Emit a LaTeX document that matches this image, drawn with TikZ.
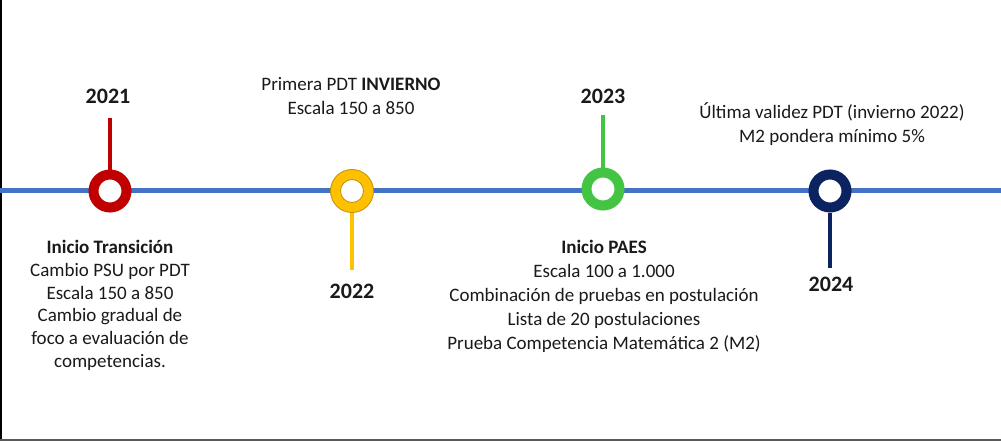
\documentclass[tikz,border=0pt]{standalone}
\usepackage{fontspec}
\setmainfont{Carlito}
\definecolor{lineblue}{HTML}{4472C4}
\definecolor{cred}{HTML}{C00000}
\definecolor{cyellow}{HTML}{FFC000}
\definecolor{cyellowedge}{HTML}{BF9000}
\definecolor{cgreen}{HTML}{43C443}
\definecolor{cnavy}{HTML}{0B2461}
\definecolor{txt}{HTML}{1A1A1A}
\begin{document}
\begin{tikzpicture}[x=1pt,y=-1pt,
  ring/.style={circle,inner sep=0pt,minimum size=33pt,line width=10pt,draw=#1,fill=white},
  stem/.style={line width=4pt,draw=#1},
  year/.style={font=\fontsize{22}{26}\selectfont\bfseries,text=txt,inner sep=0pt},
  body/.style={font=\fontsize{19}{24}\selectfont,text=txt,align=center,inner sep=0pt,anchor=north},
  tightbody/.style={body,font=\fontsize{19}{22.8}\selectfont}]
\useasboundingbox (0,0) rectangle (1001,441);
\fill[white] (0,0) rectangle (1001,441);
% frame
\draw[line width=2.5pt,black] (1,0) -- (1,441);
\draw[line width=2pt,black!65] (0,440) -- (1001,440);
% main line
\coordinate (L) at (0,190);
\coordinate (R) at (1001,190);
\draw[line width=5pt,lineblue] (L) -- (R);
% stems
\coordinate (s1) at (110,118);
\coordinate (s2) at (352,270);
\coordinate (s3) at (603,115);
\coordinate (s4) at (830,268);
\node[ring=cred] (c1) at (110,191) {};
\node[ring=cyellow] (c2) at (352,191) {};
\draw[cyellowedge,line width=0.8pt] (c2.center) circle (21.5pt);
\draw[cyellowedge,line width=0.8pt] (c2.center) circle (11.5pt);
\node[ring=cgreen] (c3) at (603,189) {};
\node[ring=cnavy] (c4) at (830,191) {};
\draw[stem=cred] (c1.north) -- (s1);
\draw[stem=cyellow] (c2.south) -- (s2);
\draw[stem=cgreen] (c3.north) -- (s3);
\draw[stem=cnavy] (c4.south) -- (s4);
% years
\node[year] (y1) at (108,96) {2021};
\node[year] (y2) at (352,291) {2022};
\node[year] (y3) at (603,96) {2023};
\node[year] (y4) at (831,284) {2024};
% texts
\node[tightbody] (t1) at (110,240) {\textbf{Inicio Transición}\\Cambio PSU por PDT\\Escala 150 a 850\\Cambio gradual de\\foco a evaluación de\\competencias.};
\node[body] (t2) at (351,77) {Primera PDT \textbf{INVIERNO}\\Escala 150 a 850};
\node[body] (t3) at (604,240) {\textbf{Inicio PAES}\\Escala 100 a 1.000\\Combinación de pruebas en postulación\\Lista de 20 postulaciones\\Prueba Competencia Matemática 2 (M2)};
\node[body] (t4) at (832,102) {Última validez PDT (invierno 2022)\\M2 pondera mínimo 5\%};
\end{tikzpicture}
\end{document}
